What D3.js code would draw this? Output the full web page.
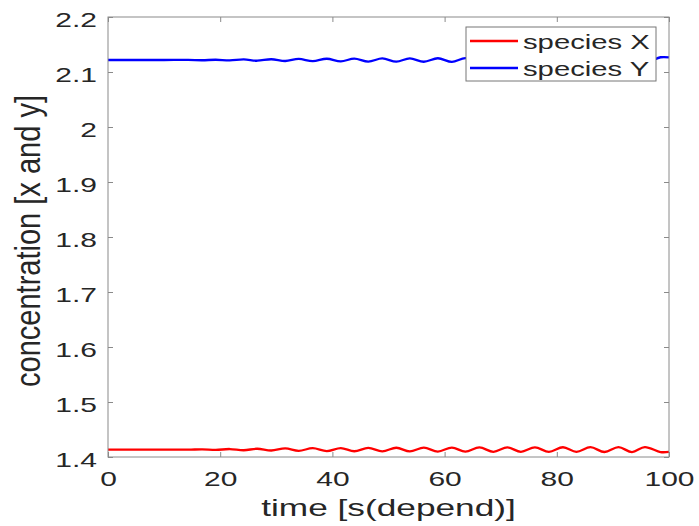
<!DOCTYPE html>
<html>
<head>
<meta charset="utf-8">
<title>species X and Y</title>
<script src="https://cdn.jsdelivr.net/npm/d3@7"></script>
<style>
  body { margin: 0; background: #fff; }
  text { font-family: "Liberation Sans", Arial, sans-serif; fill: #262626; }
</style>
</head>
<body>
<div id="chart"></div>
<script>
// time samples (mostly at the peaks / troughs of the wiggle)
var times = [0, 5, 10, 14.3, 16.8, 19.2, 21.7, 24.2, 26.6, 29.1, 31.6, 34.0, 36.5, 39.0,
  41.5, 43.9, 46.4, 48.9, 51.4, 53.8, 56.3, 58.8, 61.3, 63.7, 66.2, 68.7, 71.2, 73.6,
  76.1, 78.6, 81.1, 83.5, 86.0, 88.5, 91.0, 93.4, 95.7, 98.5, 100];
var speciesX = [1.4135, 1.4135, 1.4135, 1.4133, 1.4140, 1.4128, 1.4145, 1.4123, 1.4150,
  1.4118, 1.4155, 1.4113, 1.4160, 1.4108, 1.4163, 1.4105, 1.4166, 1.4103, 1.4168, 1.4101,
  1.4170, 1.4099, 1.4172, 1.4097, 1.4174, 1.4095, 1.4175, 1.4094, 1.4176, 1.4093, 1.4177,
  1.4092, 1.4178, 1.4091, 1.4179, 1.4090, 1.4180, 1.4089, 1.4094];
var speciesY = [2.1218, 2.1218, 2.1218, 2.1220, 2.1214, 2.1223, 2.1210, 2.1228, 2.1205,
  2.1232, 2.1200, 2.1237, 2.1196, 2.1241, 2.1193, 2.1244, 2.1190, 2.1246, 2.1188, 2.1248,
  2.1186, 2.1250, 2.1184, 2.1252, 2.1182, 2.1254, 2.1180, 2.1256, 2.1178, 2.1258, 2.1176,
  2.1260, 2.1175, 2.1262, 2.1173, 2.1264, 2.1172, 2.1268, 2.1266];
var xTicks = [0, 20, 40, 60, 80, 100];
var yTicks = [1.4, 1.5, 1.6, 1.7, 1.8, 1.9, 2, 2.1, 2.2];
var seriesNames = ["species X", "species Y"];
var seriesColors = ["#ff0000", "#0000ff"];

var width = 699, height = 526;
var margin = { top: 17, right: 30, bottom: 69, left: 108 };
var w = width - margin.left - margin.right;
var h = height - margin.top - margin.bottom;
var stretch = 1.5; // the picture is stretched sideways

var svg = d3.select("#chart").append("svg").attr("width", width).attr("height", height);
var g = svg.append("g").attr("transform", "translate(" + margin.left + "," + margin.top + ")");

var x = d3.scaleLinear().domain([0, 100]).range([0, w]);
var y = d3.scaleLinear().domain([1.4, 2.2]).range([h, 0]);

var axisColor = "#8a8a8a";

// axes (ticks inward on all four sides)
var gx = g.append("g").attr("transform", "translate(0," + h + ")")
  .call(d3.axisBottom(x).tickValues(xTicks).tickSize(-5).tickSizeOuter(0).tickFormat(d3.format("d")));
var gy = g.append("g")
  .call(d3.axisLeft(y).tickValues(yTicks).tickSize(-5).tickSizeOuter(0).tickFormat(function (d) { return String(+d.toFixed(1)); }));
g.append("g").call(d3.axisTop(x).tickValues(xTicks).tickSize(-5).tickSizeOuter(0).tickFormat(""));
g.append("g").attr("transform", "translate(" + w + ",0)")
  .call(d3.axisRight(y).tickValues(yTicks).tickSize(-5).tickSizeOuter(0).tickFormat(""));

g.selectAll(".domain").remove();
g.selectAll(".tick line").attr("stroke", axisColor);

gx.selectAll(".tick text")
  .attr("x", null).attr("y", null).attr("dy", null)
  .attr("text-anchor", "middle")
  .attr("font-size", 20)
  .attr("transform", "translate(0,29) scale(" + stretch + ",1)");
gy.selectAll(".tick text")
  .attr("x", null).attr("y", null).attr("dy", null)
  .attr("text-anchor", "end")
  .attr("font-size", 20)
  .attr("transform", "translate(-11,9) scale(" + stretch + ",1)");

// data lines
var line = d3.line().curve(d3.curveCatmullRom.alpha(0.5))
  .x(function (d) { return x(d[0]); })
  .y(function (d) { return y(d[1]); });

[speciesX, speciesY].forEach(function (vals, i) {
  g.append("path")
    .datum(times.map(function (t, k) { return [t, vals[k]]; }))
    .attr("fill", "none")
    .attr("stroke", seriesColors[i])
    .attr("stroke-width", 2.3)
    .attr("d", line);
});

// box
g.append("rect").attr("x", 0).attr("y", 0).attr("width", w).attr("height", h)
  .attr("fill", "none").attr("stroke", axisColor).attr("stroke-width", 1);

// axis titles
svg.append("text")
  .attr("text-anchor", "middle")
  .attr("font-size", 23.5)
  .attr("transform", "translate(" + (margin.left + w / 2) + ",516) scale(" + stretch + ",1)")
  .text("time [s(depend)]");

svg.append("text")
  .attr("text-anchor", "middle")
  .attr("font-size", 26)
  .attr("textLength", 292)
  .attr("lengthAdjust", "spacingAndGlyphs")
  .attr("transform", "translate(40,241) scale(1.35,1) rotate(-90)")
  .text("concentration [x and y]");

// legend
var lg = svg.append("g").attr("transform", "translate(466,27)");
lg.append("rect").attr("width", 190).attr("height", 54)
  .attr("fill", "#fff").attr("stroke", "#777").attr("stroke-width", 1);
seriesNames.forEach(function (name, i) {
  var yy = 14 + i * 27;
  lg.append("line").attr("x1", 4).attr("x2", 52).attr("y1", yy).attr("y2", yy)
    .attr("stroke", seriesColors[i]).attr("stroke-width", 2.3);
  lg.append("text")
    .attr("font-size", 19.5)
    .attr("transform", "translate(57," + (yy + 8) + ") scale(" + stretch + ",1)")
    .text(name);
});
</script>
</body>
</html>
